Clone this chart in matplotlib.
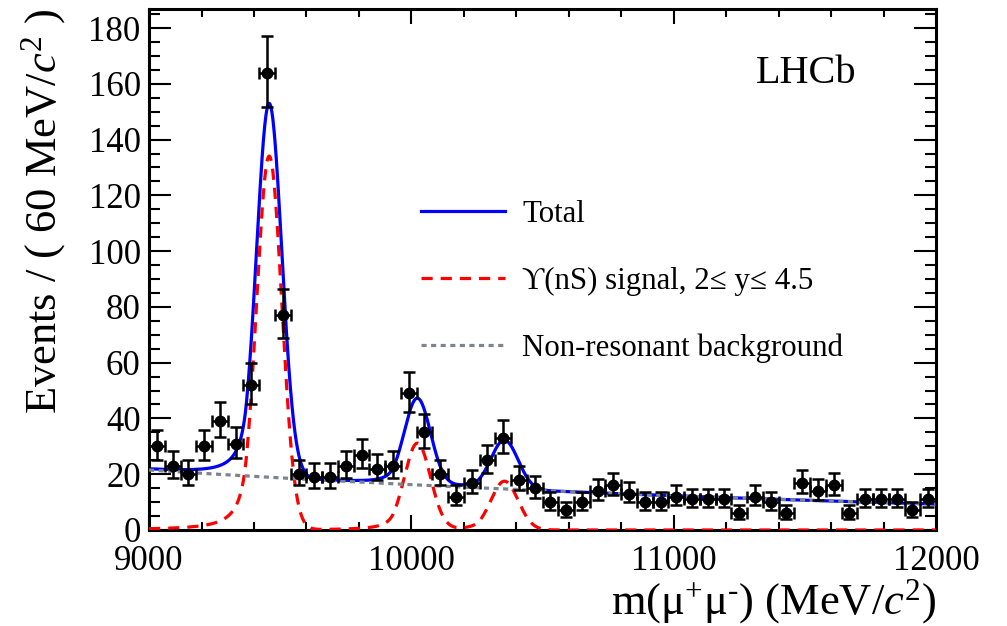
import numpy as np
import matplotlib
matplotlib.use("Agg")
from matplotlib import pyplot as plt
from matplotlib.ticker import MultipleLocator

plt.rcParams["font.family"] = ["Liberation Serif", "DejaVu Serif"]
plt.rcParams["mathtext.fontset"] = "custom"
plt.rcParams["mathtext.rm"] = "Liberation Serif"
plt.rcParams["mathtext.it"] = "Liberation Serif:italic"

# binned data, 60 MeV bins from 9000 to 12000
bin_width = 60
bin_centres = np.arange(9030, 12000, bin_width)
events = [30, 23, 20, 30, 39, 31, 52, 164, 77, 20,
          19, 19, 23, 27, 22, 23, 49, 35, 20, 12,
          17, 25, 33, 18, 15, 10, 7, 10, 14, 16,
          13, 10, 10, 12, 11, 11, 11, 6, 12, 10,
          6, 17, 14, 16, 6, 11, 11, 11, 7, 11]

# fit components
peak_mass = [9458, 10023, 10355]
peak_height = [134, 31, 17.5]
peak_sigma = [48, 50, 52]
cb_alpha = 1.8
cb_n = 2.0
bkg_at_9000 = 21.5
bkg_decay = 0.00028


def crystal_ball(m, mu, sigma, alpha, n):
    t = (m - mu) / sigma
    a = (n / alpha) ** n * np.exp(-alpha ** 2 / 2)
    b = n / alpha - alpha
    out = np.exp(-t ** 2 / 2)
    tail = t < -alpha
    out[tail] = a * (b - t[tail]) ** (-n)
    return out


m = np.linspace(9000, 12000, 3001)
signal = sum(h * crystal_ball(m, mu, s, cb_alpha, cb_n)
             for mu, h, s in zip(peak_mass, peak_height, peak_sigma))
background = bkg_at_9000 * np.exp(-bkg_decay * (m - 9000))
total = signal + background

n = np.array(events, dtype=float)
err_lo = np.sqrt(n + 0.25) - 0.5
err_hi = np.sqrt(n + 0.25) + 0.5

fig = plt.figure(figsize=(10.07, 6.26), dpi=100)
ax = fig.add_axes([0.148, 0.1534, 0.7815, 0.833])

l_tot, = ax.plot(m, total, color="#0000ff", lw=2.3, label="Total", zorder=2)
l_sig, = ax.plot(m, signal, color="#ff0000", lw=2.3, ls=(0, (3.5, 2.5)),
                 label="ϒ(nS) signal, 2≤ y≤ 4.5", zorder=3)
l_bkg, = ax.plot(m, background, color="#7a8590", lw=2.3, ls=(0, (1.6, 1.4)),
                 label="Non-resonant background", zorder=4)
ax.errorbar(bin_centres, n, yerr=[err_lo, err_hi], xerr=bin_width / 2,
            fmt="o", color="black", ms=7.5, elinewidth=1.8, capsize=4,
            capthick=1.8, zorder=5)

ax.set_xlim(9000, 12000)
ax.set_ylim(0, 187)
ax.xaxis.set_major_locator(MultipleLocator(1000))
ax.xaxis.set_minor_locator(MultipleLocator(200))
ax.yaxis.set_major_locator(MultipleLocator(20))
ax.yaxis.set_minor_locator(MultipleLocator(5))
ax.tick_params(which="both", direction="in", top=True, right=True, width=1.5)
ax.tick_params(axis="y", which="major", length=16, pad=6, labelsize=25)
ax.tick_params(axis="y", which="minor", length=8)
ax.tick_params(axis="x", which="major", length=11, pad=11, labelsize=25)
ax.tick_params(axis="x", which="minor", length=6)
for sp in ax.spines.values():
    sp.set_linewidth(2.2)

ax.set_xlabel("m(μ$^{+}$μ$^{\\text{-}}$) (MeV/$c^{2}$)", fontsize=32,
              loc="right")
ax.xaxis.set_label_coords(1.0, -0.09)
ax.set_ylabel("Events / ( 60 MeV/$c^{2}$ )", fontsize=32, loc="top")
ax.yaxis.set_label_coords(-0.103, 1.0)

ax.text(0.835, 0.876, "LHCb", transform=ax.transAxes, fontsize=29,
        ha="center", va="center")

ax.legend(handles=[l_tot, l_sig, l_bkg], loc="upper left",
          bbox_to_anchor=(0.345, 0.633), frameon=False, fontsize=22.2,
          handlelength=2.75, handletextpad=0.55, labelspacing=1.22,
          borderpad=0, borderaxespad=0)

fig.savefig("out.png", dpi=100)
